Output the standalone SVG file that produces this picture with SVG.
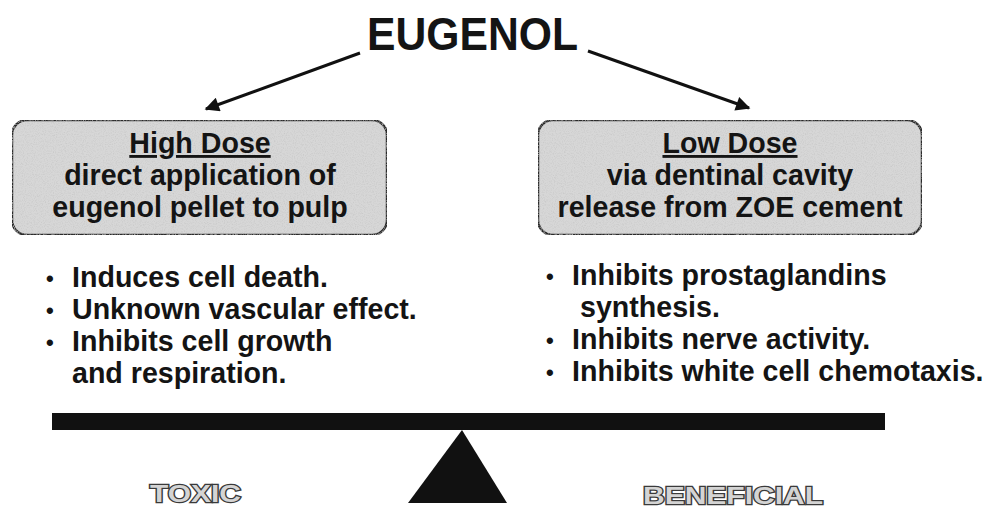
<svg xmlns="http://www.w3.org/2000/svg" width="999" height="516" viewBox="0 0 999 516">
  <style>
    text { font-family: "Liberation Sans", Arial, Helvetica, sans-serif; font-weight: bold; fill: #141414; }
    .box { fill: #d7d7d7; stroke: #2a2a2a; stroke-width: 2.5; }
    .boxtxt { font-size: 28.6px; text-anchor: middle; }
    .head { text-decoration: underline; }
    .item { font-size: 28.6px; }
    .dot { font-size: 22px; }
    .conn { stroke: #111; stroke-width: 3; fill: none; marker-end: url(#arrow); }
    .outline { font-size: 24px; fill: #d4d4d4; stroke: #3a3a3a; stroke-width: 2.4; paint-order: stroke; }
  </style>
  <defs>
    <marker id="arrow" viewBox="0 0 10 10" refX="9" refY="5" markerWidth="6" markerHeight="4.8" orient="auto" markerUnits="strokeWidth">
      <path d="M0,0 L10,5 L0,10 z" fill="#111"/>
    </marker>
    <filter id="grain" x="0" y="0" width="100%" height="100%">
      <feTurbulence type="fractalNoise" baseFrequency="0.9" numOctaves="2" seed="3" result="n"/>
      <feColorMatrix in="n" type="matrix" values="0 0 0 0 0.55  0 0 0 0 0.55  0 0 0 0 0.55  0 0 0 -1.6 0.9" result="g"/>
      <feComposite in="g" in2="SourceGraphic" operator="in" result="gc"/>
      <feMerge><feMergeNode in="SourceGraphic"/><feMergeNode in="gc"/></feMerge>
    </filter>
  </defs>

  <g id="title">
    <text x="367" y="50" font-size="46" textLength="211" lengthAdjust="spacingAndGlyphs">EUGENOL</text>
  </g>

  <g id="connectors">
    <line class="conn" x1="360" y1="53" x2="206" y2="109"/>
    <line class="conn" x1="588" y1="51" x2="749" y2="108"/>
  </g>

  <g id="high-dose">
    <rect class="box" x="12" y="120" width="375" height="115" rx="15" filter="url(#grain)"/>
    <text class="boxtxt head" x="200" y="153">High Dose</text>
    <text class="boxtxt" x="200" y="185">direct application of</text>
    <text class="boxtxt" x="200" y="217">eugenol pellet to pulp</text>
  </g>

  <g id="low-dose">
    <rect class="box" x="538" y="120" width="384" height="115" rx="15" filter="url(#grain)"/>
    <text class="boxtxt head" x="730" y="153">Low Dose</text>
    <text class="boxtxt" x="730" y="185">via dentinal cavity</text>
    <text class="boxtxt" x="730" y="217">release from ZOE cement</text>
  </g>

  <g id="toxic-effects">
    <text class="item" y="287"><tspan class="dot" x="46" dy="-1">•</tspan><tspan x="72" dy="1">Induces cell death.</tspan></text>
    <text class="item" y="319"><tspan class="dot" x="46" dy="-1">•</tspan><tspan x="72" dy="1">Unknown vascular effect.</tspan></text>
    <text class="item" y="351"><tspan class="dot" x="46" dy="-1">•</tspan><tspan x="72" dy="1">Inhibits cell growth</tspan></text>
    <text class="item" x="72" y="383">and respiration.</text>
  </g>

  <g id="beneficial-effects">
    <text class="item" y="285"><tspan class="dot" x="546" dy="-1">•</tspan><tspan x="572" dy="1">Inhibits prostaglandins</tspan></text>
    <text class="item" x="580" y="317">synthesis.</text>
    <text class="item" y="349"><tspan class="dot" x="546" dy="-1">•</tspan><tspan x="572" dy="1">Inhibits nerve activity.</tspan></text>
    <text class="item" y="381"><tspan class="dot" x="546" dy="-1">•</tspan><tspan x="572" dy="1">Inhibits white cell chemotaxis.</tspan></text>
  </g>

  <g id="balance">
    <rect x="52" y="413" width="833" height="17" fill="#111"/>
    <polygon points="462,430 408,503 507,503" fill="#111"/>
  </g>

  <g id="toxic-label">
    <text class="outline" x="150" y="502" textLength="91" lengthAdjust="spacingAndGlyphs">TOXIC</text>
  </g>
  <g id="beneficial-label">
    <text class="outline" x="643" y="504" textLength="180" lengthAdjust="spacingAndGlyphs">BENEFICIAL</text>
  </g>
</svg>
